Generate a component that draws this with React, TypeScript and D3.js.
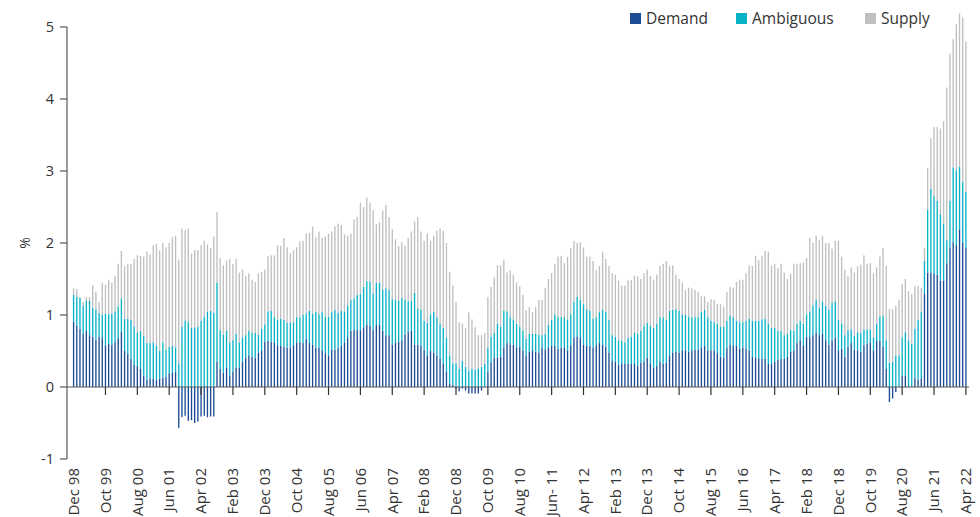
import React from 'react'
import * as d3 from 'd3'

// monthly categories Dec 98 .. Apr 22
const months = d3.timeMonth.range(new Date(1998, 11, 1), new Date(2022, 4, 1))

const tickLabels = [
  'Dec 98', 'Oct 99', 'Aug 00', 'Jun 01', 'Apr 02', 'Feb 03', 'Dec 03', 'Oct 04',
  'Aug 05', 'Jun 06', 'Apr 07', 'Feb 08', 'Dec 08', 'Oct 09', 'Aug 10', 'Jun- 11',
  'Apr 12', 'Feb 13', 'Dec 13', 'Oct 14', 'Aug 15', 'Jun 16', 'Apr 17', 'Feb 18',
  'Dec 18', 'Oct 19', 'Aug 20', 'Jun 21', 'Apr 22',
]
const tickEvery = 10

const demand = [
  0.91, 0.85, 0.81, 0.74, 0.78, 0.72, 0.70, 0.66, 0.70, 0.68,
  0.58, 0.60, 0.59, 0.62, 0.68, 0.77, 0.51, 0.46, 0.39, 0.31,
  0.29, 0.25, 0.16, 0.10, 0.12, 0.12, 0.10, 0.12, 0.13, 0.14,
  0.19, 0.20, 0.21, -0.57, -0.42, -0.40, -0.47, -0.46, -0.50, -0.48,
  -0.41, -0.40, -0.42, -0.41, -0.41, 0.35, 0.25, 0.20, 0.27, 0.16,
  0.21, 0.27, 0.27, 0.35, 0.41, 0.44, 0.42, 0.41, 0.48, 0.51,
  0.63, 0.64, 0.63, 0.62, 0.58, 0.57, 0.56, 0.55, 0.55, 0.58,
  0.62, 0.62, 0.61, 0.67, 0.61, 0.59, 0.55, 0.55, 0.51, 0.47,
  0.44, 0.52, 0.52, 0.54, 0.57, 0.62, 0.68, 0.78, 0.79, 0.79,
  0.79, 0.83, 0.87, 0.85, 0.79, 0.86, 0.87, 0.78, 0.72, 0.72,
  0.59, 0.62, 0.63, 0.65, 0.73, 0.77, 0.78, 0.59, 0.59, 0.57,
  0.52, 0.44, 0.50, 0.48, 0.44, 0.39, 0.32, 0.21, 0.05, 0.03,
  -0.02, -0.06, -0.02, -0.05, -0.09, -0.09, -0.09, -0.09, -0.05, 0.01,
  0.21, 0.34, 0.41, 0.41, 0.42, 0.55, 0.61, 0.59, 0.59, 0.55,
  0.56, 0.51, 0.44, 0.49, 0.50, 0.49, 0.48, 0.55, 0.52, 0.55,
  0.57, 0.57, 0.53, 0.55, 0.55, 0.51, 0.58, 0.69, 0.70, 0.68,
  0.59, 0.57, 0.57, 0.55, 0.58, 0.61, 0.59, 0.56, 0.48, 0.36,
  0.35, 0.31, 0.32, 0.32, 0.32, 0.32, 0.32, 0.29, 0.34, 0.35,
  0.41, 0.32, 0.27, 0.29, 0.35, 0.32, 0.34, 0.43, 0.48, 0.49,
  0.48, 0.51, 0.51, 0.49, 0.51, 0.52, 0.52, 0.55, 0.57, 0.51,
  0.51, 0.51, 0.47, 0.42, 0.41, 0.54, 0.59, 0.57, 0.57, 0.53,
  0.55, 0.53, 0.51, 0.42, 0.41, 0.40, 0.39, 0.39, 0.32, 0.32,
  0.35, 0.38, 0.39, 0.39, 0.42, 0.49, 0.51, 0.61, 0.65, 0.58,
  0.70, 0.69, 0.72, 0.76, 0.72, 0.74, 0.65, 0.59, 0.65, 0.68,
  0.51, 0.53, 0.42, 0.56, 0.61, 0.52, 0.51, 0.49, 0.58, 0.60,
  0.62, 0.51, 0.64, 0.64, 0.56, 0.25, -0.21, -0.16, -0.07, 0.01,
  0.16, 0.16, 0.01, 0.01, 0.12, 0.10, 0.12, 1.30, 1.59, 1.59,
  1.57, 1.56, 1.48, 1.48, 1.72, 1.94, 2.01, 1.97, 2.19, 2.00, 1.93,
]

const ambiguous = [
  0.37, 0.40, 0.43, 0.39, 0.42, 0.48, 0.40, 0.42, 0.33, 0.32,
  0.44, 0.41, 0.43, 0.43, 0.44, 0.46, 0.44, 0.49, 0.54, 0.53,
  0.47, 0.53, 0.55, 0.51, 0.49, 0.50, 0.47, 0.38, 0.49, 0.38,
  0.37, 0.37, 0.34, 0.33, 0.84, 0.92, 0.90, 0.82, 0.83, 0.84,
  0.92, 0.98, 1.05, 1.06, 1.03, 1.10, 0.54, 0.53, 0.51, 0.46,
  0.44, 0.47, 0.35, 0.34, 0.31, 0.34, 0.33, 0.34, 0.25, 0.30,
  0.24, 0.41, 0.43, 0.35, 0.36, 0.38, 0.37, 0.34, 0.34, 0.32,
  0.35, 0.35, 0.39, 0.35, 0.45, 0.43, 0.49, 0.46, 0.53, 0.51,
  0.54, 0.52, 0.55, 0.49, 0.49, 0.43, 0.45, 0.43, 0.44, 0.49,
  0.50, 0.56, 0.60, 0.61, 0.51, 0.59, 0.58, 0.57, 0.65, 0.63,
  0.63, 0.59, 0.57, 0.59, 0.48, 0.42, 0.42, 0.72, 0.50, 0.50,
  0.40, 0.45, 0.51, 0.57, 0.53, 0.49, 0.50, 0.47, 0.39, 0.30,
  0.33, 0.25, 0.36, 0.28, 0.23, 0.25, 0.24, 0.26, 0.28, 0.31,
  0.34, 0.36, 0.34, 0.47, 0.42, 0.51, 0.44, 0.38, 0.35, 0.33,
  0.28, 0.27, 0.23, 0.25, 0.24, 0.25, 0.25, 0.17, 0.22, 0.31,
  0.36, 0.44, 0.44, 0.42, 0.42, 0.43, 0.43, 0.49, 0.55, 0.53,
  0.56, 0.51, 0.49, 0.40, 0.39, 0.43, 0.48, 0.48, 0.45, 0.36,
  0.35, 0.34, 0.32, 0.30, 0.36, 0.38, 0.43, 0.45, 0.44, 0.50,
  0.48, 0.53, 0.55, 0.59, 0.62, 0.65, 0.60, 0.63, 0.59, 0.59,
  0.58, 0.49, 0.49, 0.49, 0.46, 0.45, 0.45, 0.49, 0.50, 0.46,
  0.41, 0.39, 0.41, 0.42, 0.43, 0.38, 0.40, 0.40, 0.35, 0.37,
  0.35, 0.39, 0.44, 0.50, 0.51, 0.52, 0.55, 0.56, 0.56, 0.50,
  0.47, 0.40, 0.39, 0.33, 0.32, 0.30, 0.27, 0.27, 0.27, 0.30,
  0.31, 0.36, 0.41, 0.45, 0.38, 0.44, 0.48, 0.48, 0.52, 0.51,
  0.42, 0.35, 0.30, 0.23, 0.19, 0.19, 0.25, 0.26, 0.22, 0.20,
  0.18, 0.18, 0.24, 0.34, 0.43, 0.40, 0.34, 0.35, 0.44, 0.43,
  0.53, 0.60, 0.64, 0.59, 0.69, 0.83, 0.93, 0.45, 0.87, 1.16,
  1.08, 1.03, 0.92, 0.79, 0.32, 0.65, 1.04, 1.04, 0.87, 0.85, 0.78,
]

const supply = [
  0.09, 0.11, 0.01, 0.05, 0.05, 0.05, 0.31, 0.24, 0.15, 0.45,
  0.40, 0.48, 0.43, 0.49, 0.59, 0.66, 0.73, 0.76, 0.78, 0.94,
  1.07, 1.04, 1.10, 1.27, 1.23, 1.35, 1.42, 1.40, 1.38, 1.42,
  1.44, 1.51, 1.55, 1.44, 1.36, 1.26, 1.30, 1.03, 1.07, 1.06,
  1.05, 1.05, 0.93, 0.87, 1.06, 0.98, 1.00, 0.96, 0.98, 1.16,
  1.06, 1.04, 0.97, 0.94, 0.82, 0.80, 0.74, 0.71, 0.85, 0.79,
  0.76, 0.77, 0.77, 0.86, 1.03, 1.01, 1.14, 1.05, 0.97, 1.00,
  0.97, 1.05, 1.03, 1.11, 1.08, 1.21, 1.04, 1.15, 1.03, 1.11,
  1.15, 1.12, 1.16, 1.24, 1.19, 1.07, 0.97, 0.92, 1.10, 1.08,
  1.27, 1.11, 1.16, 1.10, 1.16, 0.81, 0.84, 1.10, 1.16, 1.01,
  0.97, 0.84, 0.76, 0.77, 0.75, 0.88, 0.96, 0.99, 1.27, 1.09,
  1.11, 1.24, 1.02, 1.05, 1.20, 1.32, 1.35, 1.32, 1.16, 1.08,
  0.85, 0.65, 0.52, 0.54, 0.81, 0.69, 0.59, 0.46, 0.44, 0.43,
  0.70, 0.69, 0.77, 0.81, 0.85, 0.71, 0.54, 0.65, 0.62, 0.57,
  0.56, 0.50, 0.40, 0.37, 0.30, 0.37, 0.48, 0.49, 0.64, 0.64,
  0.65, 0.70, 0.84, 0.85, 0.75, 0.87, 0.92, 0.85, 0.75, 0.80,
  0.79, 0.73, 0.75, 0.80, 0.65, 0.64, 0.81, 0.74, 0.75, 0.86,
  0.86, 0.83, 0.77, 0.79, 0.80, 0.79, 0.80, 0.80, 0.72, 0.73,
  0.74, 0.69, 0.67, 0.68, 0.71, 0.74, 0.81, 0.62, 0.62, 0.48,
  0.44, 0.45, 0.35, 0.40, 0.40, 0.38, 0.35, 0.22, 0.19, 0.21,
  0.30, 0.31, 0.27, 0.31, 0.28, 0.40, 0.40, 0.41, 0.54, 0.59,
  0.59, 0.66, 0.74, 0.76, 0.90, 0.84, 0.88, 0.94, 1.00, 0.87,
  0.89, 0.87, 0.93, 0.87, 0.76, 0.78, 0.93, 0.83, 0.80, 0.85,
  0.78, 1.02, 0.87, 0.89, 0.94, 0.92, 0.87, 0.93, 0.75, 0.84,
  1.10, 0.93, 0.91, 0.75, 0.86, 0.88, 0.92, 0.95, 1.03, 0.91,
  0.92, 0.89, 0.78, 0.83, 0.94, 1.03, 0.74, 0.73, 0.69, 0.77,
  0.74, 0.74, 0.68, 0.69, 0.59, 0.47, 0.33, 0.18, 0.58, 0.71,
  0.96, 1.02, 1.19, 1.42, 2.12, 2.04, 1.78, 2.03, 2.13, 2.28, 2.09,
]

const seriesKeys = ['demand', 'ambiguous', 'supply']
const seriesNames = ['Demand', 'Ambiguous', 'Supply']
const colors = ['#1d4b94', '#07b2c6', '#bfbfc1']
const yTicks = [-1, 0, 1, 2, 3, 4, 5]

const font = '"Open Sans", "Noto Sans", sans-serif'
const textColor = '#333'
const axisColor = '#595959'

const App = () => {
  const width = 980
  const height = 517

  const rows = months.map((m, i) => ({
    month: m,
    demand: demand[i],
    ambiguous: ambiguous[i],
    supply: supply[i],
  }))

  const stack = d3.stack().keys(seriesKeys).offset(d3.stackOffsetDiverging)
  const layers = stack(rows)

  const x = d3
    .scaleBand()
    .domain(d3.range(months.length))
    .range([72, 967.5])
    .paddingInner(0.58)
    .paddingOuter(0.29)
  const y = d3.scaleLinear().domain([-1, 5]).range([459, 27])

  const axisX = 67
  const zero = y(0)
  const center = i => x(i) + x.bandwidth() / 2

  return (
    <svg
      width={width}
      height={height}
      style={{position: 'absolute', left: 0, top: 0, background: '#fff'}}
      fontFamily={font}
    >
      {layers.map((layer, li) => (
        <g key={layer.key} fill={colors[li]}>
          {layer.map((d, i) => (
            <rect
              key={i}
              x={x(i)}
              y={y(Math.max(d[0], d[1]))}
              width={x.bandwidth()}
              height={Math.abs(y(d[0]) - y(d[1]))}
            />
          ))}
        </g>
      ))}

      {/* y axis */}
      <line x1={axisX} x2={axisX} y1={y(5)} y2={y(-1)} stroke={axisColor} strokeWidth={1.2} />
      {yTicks.map(t => (
        <g key={t} transform={`translate(0, ${y(t)})`}>
          <line x1={axisX - 7} x2={axisX} stroke={axisColor} strokeWidth={1.2} />
          <text x={axisX - 13} dy="0.35em" textAnchor="end" fontSize={14.5} fill={textColor}>
            {t}
          </text>
        </g>
      ))}
      <text
        transform={`translate(30, ${y(2)}) rotate(-90)`}
        textAnchor="middle"
        fontSize={14}
        fill={textColor}
      >
        %
      </text>

      {/* x axis */}
      <line x1={axisX} x2={969} y1={zero} y2={zero} stroke={axisColor} strokeWidth={1.2} />
      {tickLabels.map((label, k) => {
        const cx = center(k * tickEvery)
        return (
          <g key={label}>
            {k > 0 && (
              <line x1={cx} x2={cx} y1={zero} y2={zero + 8} stroke="#333" strokeWidth={1.2} />
            )}
            <text
              transform={`translate(${cx}, 468) rotate(-90)`}
              dy="0.35em"
              textAnchor="end"
              fontSize={15}
              fill={textColor}
            >
              {label}
            </text>
          </g>
        )
      })}

      {/* legend */}
      {seriesNames.map((name, i) => {
        const lx = [630, 736, 865][i]
        return (
          <g key={name} transform={`translate(${lx}, 13)`}>
            <rect width={11} height={11} fill={colors[i]} />
            <text x={16} y={5.5} dy="0.35em" fontSize={15.5} fill={textColor}>
              {name}
            </text>
          </g>
        )
      })}
    </svg>
  )
}

export default App
